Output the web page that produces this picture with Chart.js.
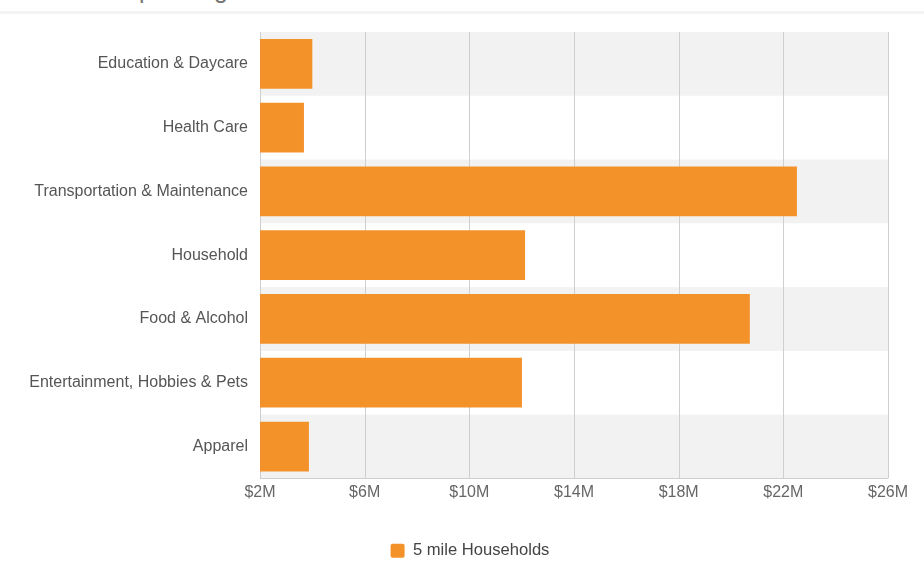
<!DOCTYPE html>
<html>
<head>
<meta charset="utf-8">
<script src="https://cdn.jsdelivr.net/npm/chart.js@4/dist/chart.umd.min.js"></script>
<style>
  html, body { margin: 0; padding: 0; background: #fff; overflow: hidden; }
  #wrap { position: relative; width: 924px; height: 575px; overflow: hidden; }
  #title { position: absolute; left: 0; top: -23px; font: 25px/25px "Liberation Sans", Arial, sans-serif; color: #777; white-space: nowrap; }
  #rule { position: absolute; left: 0; right: 0; top: 11px; height: 3px; background: #f3f3f3; }
  canvas { position: absolute; left: 0; top: 0; }
</style>
</head>
<body>
<div id="wrap">
  <div id="title">Consumer Spending</div>
  <div id="rule"></div>
  <canvas id="chart" width="924" height="575"></canvas>
</div>
<script>
// categories and values (millions of dollars)
const categories = [
  'Education & Daycare',
  'Health Care',
  'Transportation & Maintenance',
  'Household',
  'Food & Alcohol',
  'Entertainment, Hobbies & Pets',
  'Apparel'
];
const households5mi = [4.0, 3.68, 22.52, 12.13, 20.72, 12.01, 3.87];
const tickValues = [2, 6, 10, 14, 18, 22, 26];

const orange = '#F4922A';

// alternating grey row bands behind the bars
const bandsPlugin = {
  id: 'bands',
  beforeDatasetsDraw(chart) {
    const { ctx, chartArea, scales } = chart;
    const y = scales.y;
    const step = (chartArea.bottom - chartArea.top) / categories.length;
    ctx.save();
    ctx.fillStyle = '#f2f2f2';
    categories.forEach((c, i) => {
      if (i % 2 === 0) {
        const mid = y.getPixelForValue(i);
        ctx.fillRect(chartArea.left, mid - step / 2, chartArea.right - chartArea.left, step);
      }
    });
    ctx.restore();
  }
};

// grid lines drawn over the bands
const gridOverPlugin = {
  id: 'gridOver',
  beforeDatasetsDraw(chart) {
    const { ctx, chartArea, scales } = chart;
    ctx.save();
    ctx.strokeStyle = '#cfcfcf';
    ctx.lineWidth = 1;
    tickValues.forEach(v => {
      const x = Math.round(scales.x.getPixelForValue(v)) + 0.5;
      ctx.beginPath();
      ctx.moveTo(x, chartArea.top);
      ctx.lineTo(x, chartArea.bottom);
      ctx.stroke();
    });
    ctx.beginPath();
    ctx.moveTo(chartArea.left, Math.round(chartArea.bottom) + 0.5);
    ctx.lineTo(chartArea.right, Math.round(chartArea.bottom) + 0.5);
    ctx.stroke();
    ctx.restore();
  }
};

Chart.defaults.font.family = '"Liberation Sans", Arial, sans-serif';
Chart.defaults.font.size = 16;
Chart.defaults.color = '#555';

new Chart(document.getElementById('chart').getContext('2d'), {
  type: 'bar',
  data: {
    labels: categories,
    datasets: [{
      label: '5 mile Households',
      data: households5mi,
      backgroundColor: orange,
      borderWidth: 0,
      barPercentage: 0.78,
      categoryPercentage: 1
    }]
  },
  options: {
    indexAxis: 'y',
    responsive: false,
    animation: false,
    layout: { padding: { top: 32, right: 0, left: 16, bottom: 6 } },
    plugins: {
      legend: {
        position: 'bottom',
        labels: {
          boxWidth: 14,
          boxHeight: 14,
          useBorderRadius: true,
          borderRadius: 2,
          padding: 17,
          color: '#444',
          font: { size: 16.6 }
        }
      },
      tooltip: { enabled: false }
    },
    scales: {
      x: {
        min: 2,
        max: 26,
        afterBuildTicks(scale) {
          scale.ticks = tickValues.map(v => ({ value: v }));
        },
        afterFit(scale) {
          scale.height = 47;
          scale.paddingRight = 36;
        },
        grid: { display: false, drawTicks: false },
        border: { display: false },
        ticks: {
          padding: 5,
          color: '#666',
          callback: v => '$' + v + 'M'
        }
      },
      y: {
        afterFit(scale) { scale.width = 244; },
        grid: { display: false, drawTicks: false },
        border: { display: true, color: '#cfcfcf' },
        ticks: { padding: 12, color: '#555' }
      }
    }
  },
  plugins: [bandsPlugin, gridOverPlugin]
});
</script>
</body>
</html>
